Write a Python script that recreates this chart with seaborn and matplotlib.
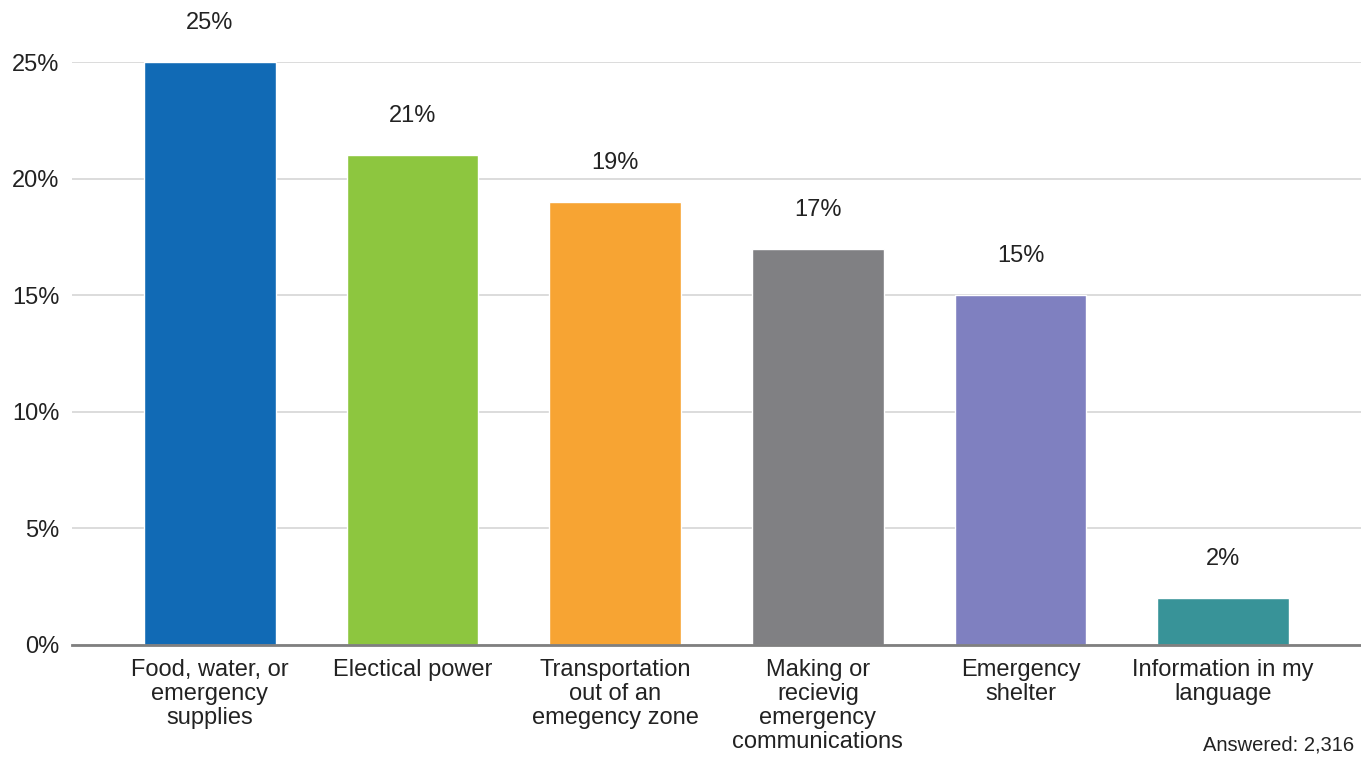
import matplotlib.pyplot as plt
import seaborn as sns
import pandas as pd
from matplotlib.ticker import FuncFormatter

categories = [
    "Food, water, or\nemergency\nsupplies",
    "Electical power",
    "Transportation\nout of an\nemegency zone",
    "Making or\nrecievig\nemergency\ncommunications",
    "Emergency\nshelter",
    "Information in my\nlanguage",
]
shares = [25, 21, 19, 17, 15, 2]
colors = ["#116AB5", "#8DC63F", "#F7A433", "#808083", "#7F80C0", "#389398"]
answered = "Answered: 2,316"

sns.set_theme(style="whitegrid")
plt.rcParams['font.family'] = ['Liberation Sans', 'DejaVu Sans']

df = pd.DataFrame({'Category': categories, 'Share': shares})

fig = plt.figure(figsize=(13.61, 7.64), dpi=100)
ax = fig.add_axes([0.0529, 0.1558, 0.9471, 0.763])

sns.barplot(data=df, x='Category', y='Share', hue='Category', palette=colors,
            width=0.65, legend=False, ax=ax, saturation=1)

ax.set_ylim(0, 25)
ax.set_xlim(-0.68, 5.68)
ax.set_yticks([0, 5, 10, 15, 20, 25])
ax.yaxis.set_major_formatter(FuncFormatter(lambda v, _: f"{v:.0f}%"))
ax.grid(axis='y', color='#D9D9D9', linewidth=1.3)
ax.grid(axis='x', visible=False)
ax.set_axisbelow(True)
for s in ['top', 'right', 'left']:
    ax.spines[s].set_visible(False)
ax.spines['bottom'].set_color('#7F7F7F')
ax.spines['bottom'].set_linewidth(2)
ax.set_xlabel('')
ax.set_ylabel('')
ax.tick_params(axis='y', length=0, pad=9, labelsize=17, labelcolor='#222222')
ax.tick_params(axis='x', length=0, pad=10, labelsize=17, labelcolor='#222222')
for lbl in ax.get_xticklabels():
    lbl.set_linespacing(1.12)

for i, v in enumerate(shares):
    ax.annotate(f"{v}%", xy=(i, v), xytext=(0, 28), textcoords='offset points',
                ha='center', va='center', fontsize=17, color='#222222',
                annotation_clip=False)

fig.text(0.995, 0.025, answered, ha='right', va='center', fontsize=14.5, color='#222222')

fig.savefig('out.png', dpi=100)
